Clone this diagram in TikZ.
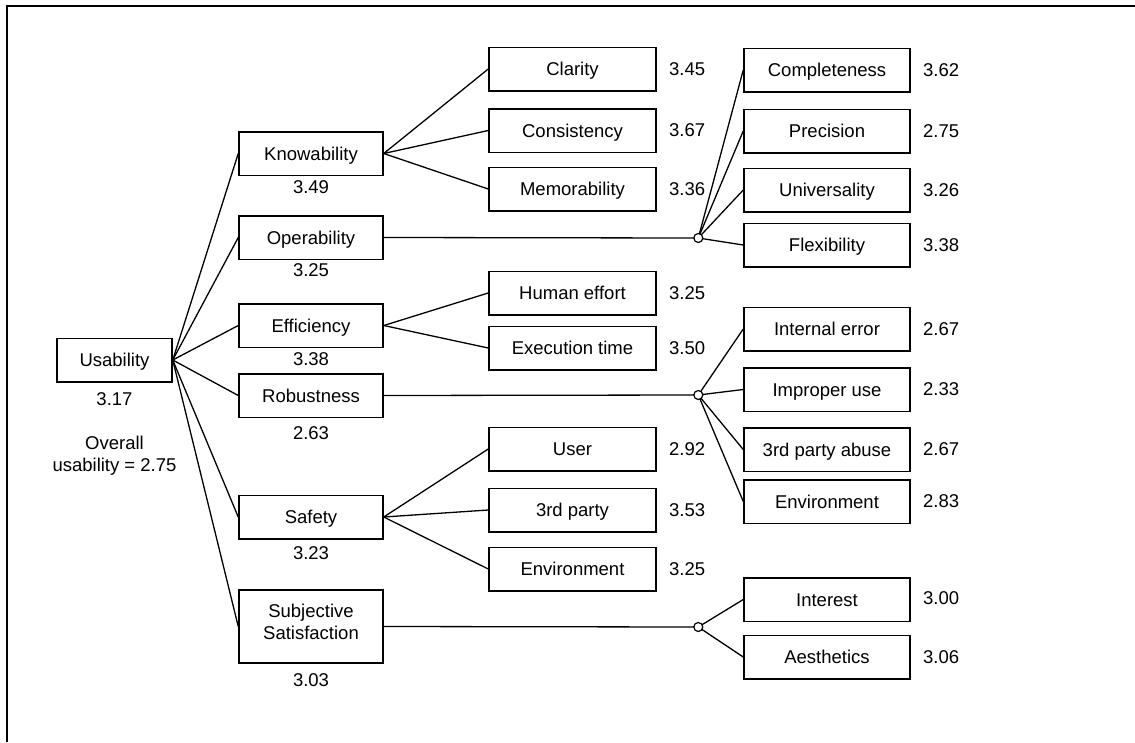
\documentclass[tikz,border=0pt]{standalone}
\usepackage{fontspec}
\setmainfont{Liberation Sans}
\begin{document}
\begin{tikzpicture}[x=1pt,y=-1pt,
  every node/.style={font=\fontsize{18.5pt}{22pt}\selectfont, inner sep=0pt},
  box/.style={draw, line width=1.5pt, minimum height=43.5pt, align=center,
    text height=13.2pt, text depth=0pt},
  rootbox/.style={box, minimum width=115pt},
  lvlone/.style={box, minimum width=144pt},
  midbox/.style={box, minimum width=167pt},
  rightbox/.style={box, minimum width=166pt},
  val/.style={anchor=west},
  link/.style={line width=1.3pt},
  hub/.style={circle, draw, fill=white, line width=1.2pt, minimum size=9pt}
]
\useasboundingbox (0,0) rectangle (1135,742);
% frame
\draw[line width=1.3pt] (1135,6) -- (7,6) -- (7,742);

% root
\node[rootbox] (usa) at (114.5,360) {Usability};
\node (usav) at (114.5,399) {3.17};
\node[align=center] (overall) at (114.5,456) {Overall\\usability = 2.75};

% first level
\node[lvlone] (know) at (311,153.5) {Knowability};
\node (knowv) at (311,187) {3.49};
\node[lvlone] (oper) at (311,237.5) {Operability};
\node (operv) at (311,270) {3.25};
\node[lvlone] (effi) at (311,325.5) {Efficiency};
\node (effiv) at (311,359) {3.38};
\node[lvlone] (robu) at (311,395.5) {Robustness};
\node (robuv) at (311,433) {2.63};
\node[lvlone] (safe) at (311,517) {Safety};
\node (safev) at (311,553) {3.23};
\node[lvlone, minimum height=73pt, text height=26.8pt, text depth=0pt] (subj) at (311,626.5) {Subjective\\Satisfaction};
\node (subjv) at (311,680) {3.03};

% second level, middle column
\node[midbox] (clar) at (572.5,69) {Clarity};
\node[val] (clarv) at (669,69) {3.45};
\node[midbox] (cons) at (572.5,130.5) {Consistency};
\node[val] (consv) at (669,130.5) {3.67};
\node[midbox] (memo) at (572.5,189) {Memorability};
\node[val] (memov) at (669,189) {3.36};
\node[midbox] (huma) at (572.5,293) {Human effort};
\node[val] (humav) at (669,293) {3.25};
\node[midbox] (exec) at (572.5,348) {Execution time};
\node[val] (execv) at (669,348) {3.50};
\node[midbox] (user) at (572.5,449) {User};
\node[val] (userv) at (669,449) {2.92};
\node[midbox] (thrd) at (572.5,510) {3rd party};
\node[val] (thrdv) at (669,510) {3.53};
\node[midbox] (envs) at (572.5,569) {Environment};
\node[val] (envsv) at (669,569) {3.25};

% second level, right column
\node[rightbox] (comp) at (827,70) {Completeness};
\node[val] (compv) at (923,70) {3.62};
\node[rightbox] (prec) at (827,131) {Precision};
\node[val] (precv) at (923,131) {2.75};
\node[rightbox] (univ) at (827,190) {Universality};
\node[val] (univv) at (923,190) {3.26};
\node[rightbox] (flex) at (827,245) {Flexibility};
\node[val] (flexv) at (923,245) {3.38};
\node[rightbox] (inte) at (827,329) {Internal error};
\node[val] (intev) at (923,329) {2.67};
\node[rightbox] (impr) at (827,389.5) {Improper use};
\node[val] (imprv) at (923,389.5) {2.33};
\node[rightbox] (abus) at (827,449.5) {3rd party abuse};
\node[val] (abusv) at (923,449.5) {2.67};
\node[rightbox] (envr) at (827,501.5) {Environment};
\node[val] (envrv) at (923,501.5) {2.83};
\node[rightbox] (intr) at (827,599.5) {Interest};
\node[val] (intrv) at (923,598) {3.00};
\node[rightbox] (aest) at (827,657) {Aesthetics};
\node[val] (aestv) at (923,657) {3.06};

% hubs
\coordinate (hopc) at (698.3,238);
\coordinate (hrbc) at (698.3,395);
\coordinate (hsbc) at (698.3,627);

% connectors from the root
\foreach \t in {know,oper,effi,robu,safe,subj}
  \draw[link] (usa.east) -- (\t.west);

% knowability, efficiency, safety
\foreach \t in {clar,cons,memo}
  \draw[link] (know.east) -- (\t.west);
\foreach \t in {huma,exec}
  \draw[link] (effi.east) -- (\t.west);
\foreach \t in {user,thrd,envs}
  \draw[link] (safe.east) -- (\t.west);

% operability, robustness, subjective satisfaction through hubs
\draw[link] (oper.east) -- (hopc);
\foreach \t in {comp,prec,univ,flex}
  \draw[link] (hopc) -- (\t.west);
\draw[link] (robu.east) -- (hrbc);
\foreach \t in {inte,impr,abus,envr}
  \draw[link] (hrbc) -- (\t.west);
\draw[link] (subj.east) -- (hsbc);
\foreach \t in {intr,aest}
  \draw[link] (hsbc) -- (\t.west);

\node[hub] (hop) at (hopc) {};
\node[hub] (hrb) at (hrbc) {};
\node[hub] (hsb) at (hsbc) {};
\end{tikzpicture}
\end{document}
